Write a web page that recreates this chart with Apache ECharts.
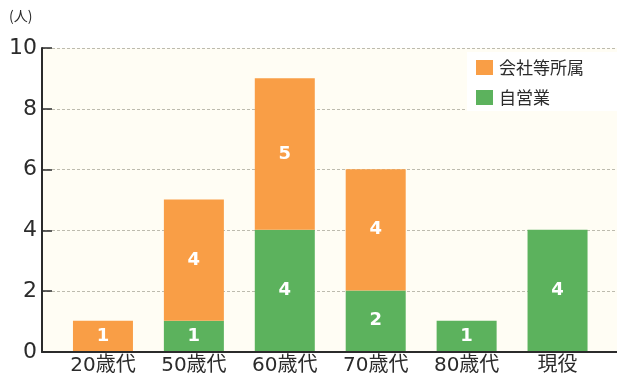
<!DOCTYPE html>
<html>
<head>
<meta charset="utf-8">
<script src="https://cdn.jsdelivr.net/npm/echarts@6/dist/echarts.min.js"></script>
<style>
  html, body { margin: 0; padding: 0; background: #ffffff; }
  #chart { width: 617px; height: 376px; }
</style>
</head>
<body>
<div id="chart"></div>
<script>
// Age groups along the bottom axis
const categories = ['20歳代', '50歳代', '60歳代', '70歳代', '80歳代', '現役'];
// Counts per group (people)
const selfEmployed = [0, 1, 4, 2, 1, 4];   // 自営業
const companyStaff = [1, 4, 5, 4, 0, 0];   // 会社等所属
// Vertical axis ticks
const yTicks = [0, 2, 4, 6, 8, 10];

const ORANGE = '#f99e46';
const GREEN = '#5cb25d';
const INK = '#2b2b2b';
const LABEL_FONT = '"DejaVu Sans", "Noto Sans CJK JP", sans-serif';
const JP_FONT = '"Noto Sans CJK JP", sans-serif';

const chart = echarts.init(document.getElementById('chart'), null, { renderer: 'canvas' });

const barLabel = {
  show: true,
  position: 'inside',
  color: '#ffffff',
  fontWeight: 'bold',
  fontSize: 18,
  fontFamily: LABEL_FONT,
  formatter: p => (p.value > 0 ? String(p.value) : '')
};

chart.setOption({
  animation: false,
  backgroundColor: '#ffffff',
  graphic: [{
    type: 'text',
    left: 9,
    top: 9,
    style: { text: '(人)', fontSize: 14, fill: INK, fontFamily: JP_FONT }
  }],
  legend: {
    orient: 'vertical',
    left: 467,
    top: 52,
    padding: [7, 40, 5, 9],
    backgroundColor: '#ffffff',
    itemWidth: 17,
    itemHeight: 15,
    itemGap: 13,
    icon: 'rect',
    data: ['会社等所属', '自営業'],
    textStyle: { fontSize: 17, color: INK, fontFamily: JP_FONT, padding: [0, 0, 0, 1] }
  },
  grid: [
    // frame: cream plot area, axis lines, value ticks
    { left: 42, right: 0, top: 48, bottom: 24, show: true, backgroundColor: '#fffdf4', borderWidth: 0 },
    // bars
    { left: 57.5, right: 14, top: 48, bottom: 24 }
  ],
  xAxis: [
    {
      gridIndex: 0, type: 'value', min: 0, max: 1,
      axisLine: { show: true, lineStyle: { color: INK, width: 2 } },
      axisTick: { show: false }, axisLabel: { show: false }, splitLine: { show: false }
    },
    {
      gridIndex: 1, type: 'category', data: categories,
      axisLine: { show: false }, axisTick: { show: false },
      axisLabel: { color: INK, fontSize: 20, margin: 5, fontFamily: LABEL_FONT }
    }
  ],
  yAxis: [
    {
      gridIndex: 0, type: 'value', min: yTicks[0], max: yTicks[yTicks.length - 1], interval: 2,
      axisLine: { show: true, lineStyle: { color: INK, width: 2 } },
      axisTick: { show: true, inside: true, length: 10, lineStyle: { color: INK, width: 1.5 } },
      axisLabel: { color: INK, fontSize: 22, margin: 5, fontFamily: '"DejaVu Sans", sans-serif' },
      splitLine: { show: true, lineStyle: { color: '#bdbbae', type: [3, 2], width: 1 } }
    },
    {
      gridIndex: 1, type: 'value', min: 0, max: 10, show: false
    }
  ],
  series: [
    {
      name: '自営業', type: 'bar', stack: 'total', xAxisIndex: 1, yAxisIndex: 1,
      data: selfEmployed, barWidth: 60, itemStyle: { color: GREEN }, label: barLabel
    },
    {
      name: '会社等所属', type: 'bar', stack: 'total', xAxisIndex: 1, yAxisIndex: 1,
      data: companyStaff, barWidth: 60, itemStyle: { color: ORANGE }, label: barLabel
    }
  ]
});
</script>
</body>
</html>
